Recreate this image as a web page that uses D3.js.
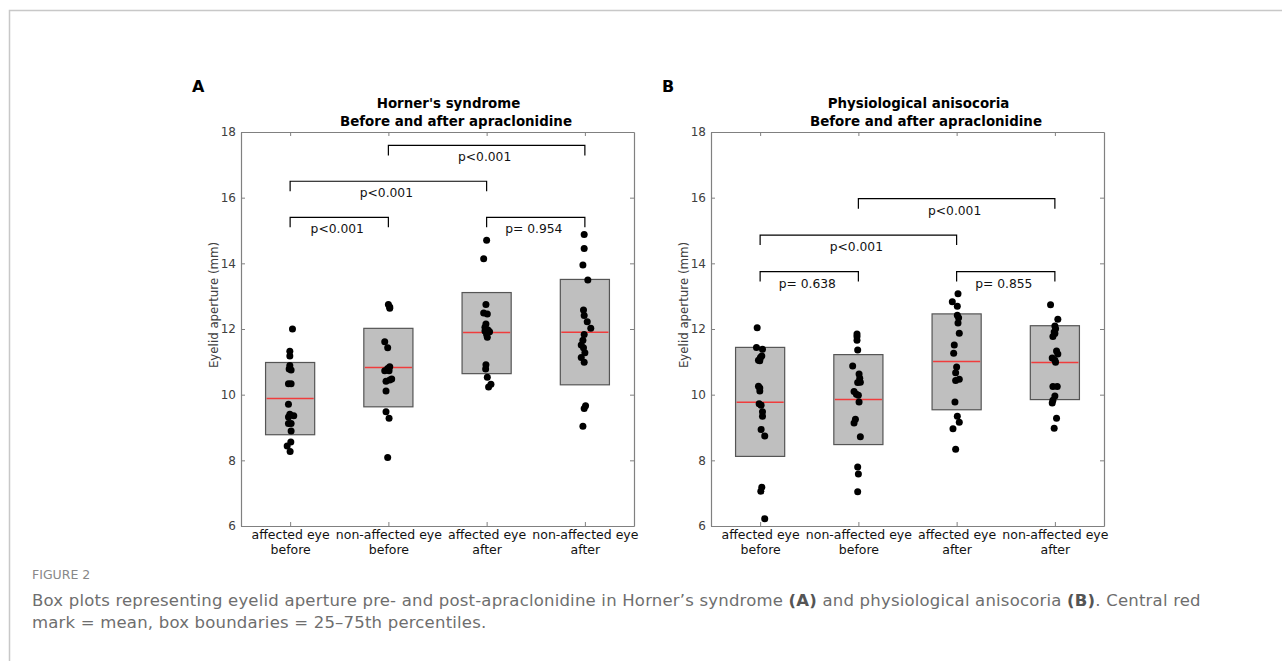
<!DOCTYPE html>
<html>
<head>
<meta charset="utf-8">
<script src="https://cdn.jsdelivr.net/npm/d3@7"></script>
<style>
    body{ margin:0; background:#fff; }
    svg text{ font-family:"DejaVu Sans", Verdana, sans-serif; }
    .caption{ font-family:"Open Sans", sans-serif; }
</style>
</head>
<body>
<svg id="fig" width="1282" height="661"></svg>
<script>
// categories
var categories = [
    ["affected eye","before"],
    ["non-affected eye","before"],
    ["affected eye","after"],
    ["non-affected eye","after"]
];
var yTicks = [6,8,10,12,14,16,18];

// Horner's syndrome: [value, jitter]
var hornerPoints = [
    [[12.00,0.024],[11.32,-0.003],[11.18,-0.003],[10.89,-0.003],[10.78,-0.01],[10.75,0.01],[10.33,-0.017],[10.33,0.01],
     [9.71,-0.017],[9.40,-0.003],[9.36,0.037],[9.32,-0.017],[9.12,-0.017],[9.12,0.01],[8.89,0.01],[8.56,0.007],[8.44,-0.03],[8.27,0]],
    [[12.75,0],[12.67,0.014],[12.63,0.014],[11.61,-0.037],[11.43,-0.007],[10.85,0.014],[10.80,-0.007],[10.73,-0.037],[10.73,0.007],
     [10.48,0.034],[10.45,0.014],[10.41,-0.024],[10.11,-0.024],[9.48,-0.024],[9.28,0.007],[8.09,-0.007]],
    [[14.70,0],[14.14,-0.03],[12.75,-0.007],[12.49,-0.03],[12.46,0.007],[12.15,-0.007],[12.05,-0.017],[11.97,0.014],[11.94,-0.017],
     [11.92,0.03],[11.83,0],[11.75,0.007],[10.91,-0.007],[10.78,-0.01],[10.53,0.007],[10.32,0.044],[10.23,0.02]],
    [[14.88,-0.007],[14.45,-0.007],[13.95,-0.02],[13.49,0.03],[12.58,-0.014],[12.41,-0.007],[12.22,0.024],[12.02,0.06],[11.83,-0.007],
     [11.66,-0.02],[11.51,-0.037],[11.43,-0.014],[11.28,0],[11.13,-0.037],[10.99,-0.007],[9.66,0.007],[9.58,-0.007],[9.04,-0.02]]
];
var hornerQ1 = [8.78, 9.63, 10.64, 10.30];
var hornerQ3 = [10.98, 12.02, 13.11, 13.51];
var hornerMean = [9.88, 10.83, 11.89, 11.90];
var hornerPvals = [
    {a:2, b:4, y:17.59, label:"p<0.001"},
    {a:1, b:3, y:16.50, label:"p<0.001"},
    {a:1, b:2, y:15.40, label:"p<0.001"},
    {a:3, b:4, y:15.40, label:"p= 0.954"}
];

// Physiological anisocoria
var physioPoints = [
    [[12.04,-0.03],[11.44,-0.037],[11.38,0.024],[11.18,0.017],[11.13,0.003],[11.05,-0.017],[11.03,-0.003],[10.26,-0.017],[10.20,-0.003],
     [10.11,-0.003],[9.72,-0.01],[9.68,0.01],[9.48,0.024],[9.34,0.024],[8.94,0.01],[8.74,0.047],[7.18,0.017],[7.06,0.007],[6.22,0.047]],
    [[11.85,-0.014],[11.77,-0.014],[11.66,-0.014],[11.36,-0.007],[10.87,-0.058],[10.63,0.007],[10.50,0.014],[10.38,0.02],[10.37,-0.007],
     [10.10,-0.044],[10.01,-0.02],[9.98,0],[9.78,0.007],[9.25,-0.03],[9.14,-0.044],[8.72,0.02],[7.80,-0.007],[7.58,0],[7.04,-0.007]],
    [[13.07,0.014],[12.83,-0.044],[12.69,0.007],[12.42,0.007],[12.34,0.02],[12.18,0.014],[11.87,0.027],[11.51,-0.024],[11.26,-0.03],
     [10.84,0],[10.67,-0.01],[10.47,0.027],[10.43,-0.01],[9.78,-0.017],[9.34,0.007],[9.16,0.027],[8.96,-0.037],[8.34,-0.01]],
    [[12.74,-0.044],[12.30,0.03],[12.09,0],[12.01,0.007],[11.91,-0.007],[11.86,0],[11.77,-0.02],[11.33,0.017],[11.24,0.03],[11.12,-0.027],
     [11.05,0],[10.99,0.007],[10.25,-0.02],[10.25,0.024],[9.96,0],[9.83,-0.02],[9.75,-0.027],[9.28,0.017],[8.98,-0.007]]
];
var physioQ1 = [8.12, 8.48, 9.54, 9.85];
var physioQ3 = [11.44, 11.22, 12.46, 12.10];
var physioMean = [9.77, 9.85, 11.01, 10.98];
var physioPvals = [
    {a:2, b:4, y:15.97, label:"p<0.001"},
    {a:1, b:3, y:14.86, label:"p<0.001"},
    {a:1, b:2, y:13.75, label:"p= 0.638"},
    {a:3, b:4, y:13.75, label:"p= 0.855"}
];

var svg = d3.select("#fig");

// outer frame (only top/left edges visible)
svg.append("rect")
    .attr("x", 9.5).attr("y", 10.5)
    .attr("width", 1300).attr("height", 700)
    .attr("fill", "none")
    .attr("stroke", "#c8c8c8")
    .attr("stroke-width", 1.5);

function drawPanel( left, letter, titles, points, q1, q3, mean, pvals ){
    var top = 132, bottom = 526, right = left + 393;
    var x = d3.scaleLinear().domain([0.5, 4.5]).range([left, right]);
    var y = d3.scaleLinear().domain([6, 18]).range([bottom, top]);
    var g = svg.append("g");
    var cats = [1,2,3,4];

    // boxes
    g.selectAll("rect.box")
        .data(cats)
        .enter().append("rect")
            .attr("class", "box")
            .attr("x", function(d){ return x(d - 0.25); })
            .attr("width", x(0.75) - x(0.25))
            .attr("y", function(d,i){ return y(q3[i]); })
            .attr("height", function(d,i){ return y(q1[i]) - y(q3[i]); })
            .attr("fill", "#bfbfbf")
            .attr("stroke", "#555")
            .attr("stroke-width", 1.2);

    g.selectAll("line.mean")
        .data(cats)
        .enter().append("line")
            .attr("class", "mean")
            .attr("x1", function(d){ return x(d - 0.25) + 1; })
            .attr("x2", function(d){ return x(d + 0.25) - 1; })
            .attr("y1", function(d,i){ return y(mean[i]); })
            .attr("y2", function(d,i){ return y(mean[i]); })
            .attr("stroke", "#f03c3c")
            .attr("stroke-width", 1.5);

    // dots
    points.forEach(function(grp, i){
        g.selectAll(null)
            .data(grp)
            .enter().append("circle")
                .attr("cx", function(d){ return x(i + 1 + d[1]); })
                .attr("cy", function(d){ return y(d[0]); })
                .attr("r", 3.5)
                .attr("fill", "#000");
    });

    // axes (MATLAB style, ticks inside, box on)
    var axL = g.append("g")
        .attr("transform", "translate(" + left + ",0)")
        .call(d3.axisLeft(y).tickValues(yTicks).tickSizeInner(-4).tickSizeOuter(0).tickPadding(5));
    var axR = g.append("g")
        .attr("transform", "translate(" + right + ",0)")
        .call(d3.axisRight(y).tickValues(yTicks).tickSizeInner(-4).tickSizeOuter(0).tickFormat(""));
    var axT = g.append("g")
        .attr("transform", "translate(0," + top + ")")
        .call(d3.axisTop(x).tickValues(cats).tickSizeInner(-4).tickSizeOuter(0).tickFormat(""));
    var axB = g.append("g")
        .attr("transform", "translate(0," + bottom + ")")
        .call(d3.axisBottom(x).tickValues(cats).tickSizeInner(-4).tickSizeOuter(0).tickFormat(""));

    [axL, axR, axT, axB].forEach(function(a){
        a.select(".domain").attr("stroke", "#808080").attr("stroke-width", 1.2);
        a.selectAll(".tick line").attr("stroke", "#808080");
    });
    axL.selectAll(".tick text")
        .attr("font-family", "DejaVu Sans")
        .attr("font-size", 12)
        .attr("fill", "#404040");

    // category labels
    var lab = axB.selectAll(".tick").append("text")
        .attr("fill", "#111")
        .attr("font-size", 12.5)
        .attr("text-anchor", "middle");
    lab.append("tspan").attr("x", 0).attr("y", 13).text(function(d){ return categories[d-1][0]; });
    lab.append("tspan").attr("x", 0).attr("y", 28).text(function(d){ return categories[d-1][1]; });

    // y label
    g.append("text")
        .attr("transform", "translate(" + (left - 27) + ",305) rotate(-90)")
        .attr("text-anchor", "middle")
        .attr("dominant-baseline", "central")
        .attr("font-size", 11.8)
        .attr("fill", "#404040")
        .text("Eyelid aperture (mm)");

    // titles
    var mid = (left + right) / 2;
    g.append("text")
        .attr("x", mid + 11).attr("y", 108)
        .attr("text-anchor", "middle")
        .attr("font-weight", "bold")
        .attr("font-size", 13.4)
        .text(titles[0]);
    g.append("text")
        .attr("x", mid + 18.5).attr("y", 126)
        .attr("text-anchor", "middle")
        .attr("font-weight", "bold")
        .attr("font-size", 13.4)
        .text(titles[1]);

    g.append("text")
        .attr("x", left - 49).attr("y", 91.5)
        .attr("font-weight", "bold")
        .attr("font-size", 16)
        .text(letter);

    // significance brackets
    var br = g.selectAll("g.pval")
        .data(pvals)
        .enter().append("g")
            .attr("class", "pval");
    br.append("path")
        .attr("d", function(d){
            var yy = y(d.y);
            return "M" + x(d.a) + "," + (yy + 10) + "V" + yy + "H" + x(d.b) + "V" + (yy + 10);
        })
        .attr("fill", "none")
        .attr("stroke", "#000")
        .attr("stroke-width", 1.2);
    br.append("text")
        .attr("x", function(d){ return (x(d.a) + x(d.b)) / 2 - 2; })
        .attr("y", function(d){ return y(d.y) + 16; })
        .attr("text-anchor", "middle")
        .attr("font-size", 12.3)
        .attr("fill", "#111")
        .text(function(d){ return d.label; });
}

drawPanel(241, "A", ["Horner's syndrome", "Before and after apraclonidine"],
    hornerPoints, hornerQ1, hornerQ3, hornerMean, hornerPvals);
drawPanel(711, "B", ["Physiological anisocoria", "Before and after apraclonidine"],
    physioPoints, physioQ1, physioQ3, physioMean, physioPvals);

// caption
var cap = svg.append("g").attr("class", "caption");
cap.append("text")
    .attr("x", 32).attr("y", 579)
    .attr("font-family", "Open Sans")
    .attr("font-size", 12.5)
    .attr("fill", "#888")
    .text("FIGURE 2");
var l1 = cap.append("text")
    .attr("x", 32).attr("y", 606)
    .attr("font-family", "Open Sans")
    .attr("font-size", 16.5)
    .attr("letter-spacing", 0.2)
    .attr("fill", "#6e6e6e");
l1.append("tspan").text("Box plots representing eyelid aperture pre- and post-apraclonidine in Horner\u2019s syndrome ");
l1.append("tspan").attr("font-weight", "bold").attr("fill", "#555").text("(A)");
l1.append("tspan").text(" and physiological anisocoria ");
l1.append("tspan").attr("font-weight", "bold").attr("fill", "#555").text("(B)");
l1.append("tspan").text(". Central red");
cap.append("text")
    .attr("x", 32).attr("y", 627.5)
    .attr("font-family", "Open Sans")
    .attr("font-size", 16.5)
    .attr("letter-spacing", 0.2)
    .attr("fill", "#6e6e6e")
    .text("mark = mean, box boundaries = 25\u201375th percentiles.");
</script>
</body>
</html>
